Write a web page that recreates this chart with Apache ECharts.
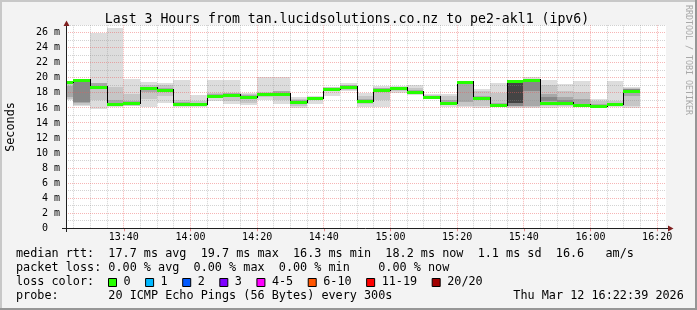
<!DOCTYPE html>
<html><head><meta charset="utf-8">
<script src="https://cdn.jsdelivr.net/npm/echarts@6/dist/echarts.min.js"></script>
<style>html,body{margin:0;padding:0;background:#f3f3f3}#c{width:697px;height:310px}</style>
</head><body><div id="c"></div>
<script>
// ---------- data ----------
const axisStart = '13:22:39';
const axisEnd = '16:22:39';
const stepMinutes = 5;
const stepEnds = ['13:25','13:30','13:35','13:40','13:45','13:50','13:55','14:00','14:05','14:10',
  '14:15','14:20','14:25','14:30','14:35','14:40','14:45','14:50','14:55','15:00',
  '15:05','15:10','15:15','15:20','15:25','15:30','15:35','15:40','15:45','15:50',
  '15:55','16:00','16:05','16:10','16:15'];
const median = [19.5,19.7,18.85,16.55,16.6,18.6,18.45,16.5,16.5,17.65,
  17.75,17.5,17.85,17.85,16.85,17.3,18.55,18.75,16.95,18.4,
  18.6,18.15,17.5,16.65,19.45,17.35,16.35,19.6,19.7,16.7,
  16.6,16.4,16.3,16.5,18.2];
const pingMin = [17.0,16.3,15.8,16.1,16.2,16.1,16.6,16.1,16.1,16.9,
  16.5,16.4,17.1,16.5,16.0,16.55,17.65,18.2,16.1,16.1,
  17.95,17.75,17.2,16.1,16.1,16.0,16.1,16.0,16.0,16.0,
  16.1,16.1,16.0,16.1,16.0];
const pingMax = [19.6,19.9,25.9,26.6,19.9,19.5,19.3,19.75,17.7,19.75,
  19.75,18.0,20.1,20.1,17.45,17.6,18.85,19.3,18.05,18.95,
  18.95,19.0,17.85,17.85,19.6,18.5,19.3,19.7,20.1,19.75,
  19.2,19.6,17.2,19.6,18.8];
const band2Lo = [17.2,16.4,17.1,16.3,16.3,17.2,17.6,16.2,16.2,17.3,
  16.9,16.7,17.4,17.1,16.3,17.0,18.2,18.4,16.5,17.0,
  18.3,17.9,17.3,16.4,16.2,16.3,16.2,16.1,16.1,16.3,
  16.3,16.2,16.1,16.2,16.3];
const band2Hi = [19.4,19.8,19.3,18.8,17.8,19.1,19.0,17.0,16.9,18.0,
  18.0,17.8,18.1,18.2,17.2,17.5,18.75,19.1,17.6,18.7,
  18.8,18.6,17.7,17.6,19.5,18.2,18.0,19.6,19.9,19.0,
  18.3,18.1,16.9,16.9,18.6];
const band3Lo = [17.5,16.6,18.5,16.4,16.5,18.1,18.1,16.4,16.4,17.6,
  17.8,17.2,17.7,17.9,16.6,17.2,18.4,18.6,16.8,18.2,
  18.5,18.1,17.4,16.5,16.8,17.0,16.3,16.2,16.3,16.6,
  16.5,16.3,16.2,16.3,17.6];
const band3Hi = [18.9,19.7,19.3,17.1,16.9,18.7,18.6,16.8,16.6,17.9,
  18.0,17.7,18.0,18.3,17.0,17.4,18.7,19.0,17.2,18.6,
  18.7,18.4,17.6,17.0,19.2,17.6,16.6,19.6,19.6,17.8,
  17.5,17.2,16.5,16.6,18.5];
const band4Lo = [null,16.8,null,null,null,null,null,null,null,null,
  null,null,null,null,null,null,null,null,null,null,
  null,null,null,null,null,null,null,16.3,18.2,16.9,
  16.7,null,null,null,18.2];
const band4Hi = [null,19.5,null,null,null,null,null,null,null,null,
  null,null,null,null,null,null,null,null,null,null,
  null,null,null,null,null,null,null,19.5,19.4,17.5,
  17.1,null,null,null,18.5];
const band5Lo = [null,null,null,null,null,null,null,null,null,null,
  null,null,null,null,null,null,null,null,null,null,
  null,null,null,null,null,null,null,16.6,null,null,
  null,null,null,null,null];
const band5Hi = [null,null,null,null,null,null,null,null,null,null,
  null,null,null,null,null,null,null,null,null,null,
  null,null,null,null,null,null,null,19.5,null,null,
  null,null,null,null,null];
const xTickLabels = ['13:40','14:00','14:20','14:40','15:00','15:20','15:40','16:00','16:20'];
const yTickValues = [0,2,4,6,8,10,12,14,16,18,20,22,24,26];
const yMax = 27;
const lossLabels = ['0','1','2','3','4-5','6-10','11-19','20/20'];
const lossColors = ['#26ff00','#00b8ff','#0059ff','#7e00ff','#ff00ff','#ff5500','#ff0000','#a10000'];
const titleText = 'Last 3 Hours from tan.lucidsolutions.co.nz to pe2-akl1 (ipv6)';
const legendLines = [
  'median rtt:  17.7 ms avg  19.7 ms max  16.3 ms min  18.2 ms now  1.1 ms sd  16.6   am/s',
  'packet loss: 0.00 % avg  0.00 % max  0.00 % min    0.00 % now',
  'loss color:',
  'probe:       20 ICMP Echo Pings (56 Bytes) every 300s'
];
const dateText = 'Thu Mar 12 16:22:39 2026';

// ---------- helpers ----------
function toMin(s){ const p = s.split(':').map(Number); return p[0]*60 + p[1] + (p[2]||0)/60; }
function fmtHM(v){ const h = Math.floor(v/60), m = Math.round(v - h*60); return String(h).padStart(2,'0') + ':' + String(m).padStart(2,'0'); }
const X0 = toMin(axisStart), X1 = toMin(axisEnd);
const FONT = '"DejaVu Sans Mono", monospace';

function segs(lo, hi){
  const out = [];
  stepEnds.forEach((e,i) => {
    if (lo[i] == null || hi[i] == null) return;
    const end = toMin(e);
    out.push([end - stepMinutes, end, lo[i], hi[i]]);
  });
  return out;
}
function rectRender(color){
  return function(params, api){
    const cs = params.coordSys;
    const a = api.coord([api.value(0), api.value(3)]);
    const b = api.coord([api.value(1), api.value(2)]);
    const x1 = Math.floor(Math.max(a[0], cs.x));
    const x2 = Math.floor(Math.min(b[0], cs.x + cs.width));
    const y1 = Math.round(a[1]), y2 = Math.round(b[1]);
    if (x2 <= x1) return null;
    return {type:'rect', shape:{x:x1, y:y1, width:x2-x1, height:Math.max(1, y2-y1)}, style:{fill:color}};
  };
}
function bandSeries(lo, hi, color, z){
  return {type:'custom', data:segs(lo, hi), renderItem:rectRender(color), z:z, silent:true,
    encode:{x:[0,1], y:[2,3]}};
}

// median data: [start, end, median, previous median]
const medData = stepEnds.map((e,i) => { const end = toMin(e); return [end - stepMinutes, end, median[i], i > 0 ? median[i-1] : median[i]]; });

// grid line positions
const vMinor = [], vMajor = [];
for (let t = Math.ceil(X0/stepMinutes)*stepMinutes; t <= X1; t += stepMinutes) (t % 20 === 0 ? vMajor : vMinor).push([t]);
const hMinor = [], hMajor = [];
for (let v = 1; v <= yMax; v++) (v % 2 === 0 ? hMajor : hMinor).push([v]);

function vLine(color){
  return function(params, api){
    const cs = params.coordSys;
    const x = Math.floor(api.coord([api.value(0), 0])[0]) + 0.5;
    return {type:'line', shape:{x1:x, y1:cs.y, x2:x, y2:cs.y + cs.height}, style:{stroke:color, lineWidth:1, lineDash:[1,1]}};
  };
}
function hLine(color){
  return function(params, api){
    const cs = params.coordSys;
    const y = Math.floor(api.coord([X0, api.value(0)])[1]) + 0.5;
    return {type:'line', shape:{x1:cs.x, y1:y, x2:cs.x + cs.width, y2:y}, style:{stroke:color, lineWidth:1, lineDash:[1,1]}};
  };
}
const MINOR = 'rgba(140,140,140,0.38)', MAJOR = 'rgba(235,90,90,0.45)';

// ---------- graphic (title, legend, frame) ----------
const CW = 11.8 * 0.6021;
const graphics = [
  {type:'rect', shape:{x:0, y:0, width:697, height:2}, style:{fill:'#c8c8c8'}, silent:true},
  {type:'rect', shape:{x:0, y:0, width:2, height:310}, style:{fill:'#c8c8c8'}, silent:true},
  {type:'rect', shape:{x:0, y:308, width:697, height:2}, style:{fill:'#969696'}, silent:true},
  {type:'rect', shape:{x:695, y:0, width:2, height:310}, style:{fill:'#969696'}, silent:true},
  {type:'text', x:347, y:19.5, style:{text:titleText, font:'13.2px ' + FONT, fill:'#000', align:'center', verticalAlign:'middle'}},
  {type:'text', x:11, y:127, rotation:Math.PI/2, style:{text:'Seconds', font:'11.8px ' + FONT, fill:'#000', align:'center', verticalAlign:'middle'}},
  {type:'text', x:688, y:60, rotation:-Math.PI/2, style:{text:'RRDTOOL / TOBI OETIKER', font:'8.3px ' + FONT, fill:'#a8a8a8', align:'center', verticalAlign:'middle'}},
  // axes
  {type:'line', shape:{x1:62, y1:228.5, x2:669, y2:228.5}, style:{stroke:'#1f1f1f', lineWidth:1}, z:10},
  {type:'line', shape:{x1:66.5, y1:232, x2:66.5, y2:25}, style:{stroke:'#1f1f1f', lineWidth:1}, z:10},
  {type:'polygon', shape:{points:[[668,225.5],[673.5,228.5],[668,231.5]]}, style:{fill:'#7f1f1f'}, z:10},
  {type:'polygon', shape:{points:[[63.5,26],[66.5,20.5],[69.5,26]]}, style:{fill:'#7f1f1f'}, z:10}
];
const lineY = [254.2, 268.0, 281.8, 295.6];
legendLines.forEach((t,i) => {
  graphics.push({type:'text', x:16, y:lineY[i], style:{text:t, font:'11.8px ' + FONT, fill:'#000', align:'left', verticalAlign:'middle'}});
});
graphics.push({type:'text', x:16 + 70*CW, y:lineY[3], style:{text:dateText, font:'11.8px ' + FONT, fill:'#000', align:'left', verticalAlign:'middle'}});
let bx = 108.5;
lossLabels.forEach((lab,i) => {
  graphics.push({type:'rect', shape:{x:bx, y:278.5, width:8, height:8}, style:{fill:lossColors[i], stroke:'#000', lineWidth:1}});
  graphics.push({type:'text', x:bx + 15, y:lineY[2], style:{text:lab, font:'11.8px ' + FONT, fill:'#000', align:'left', verticalAlign:'middle'}});
  bx += 15.7 + lab.length*CW + 14.3;
});

// ---------- chart ----------
const chart = echarts.init(document.getElementById('c'), null, {renderer:'canvas', width:697, height:310});
chart.setOption({
  animation:false,
  backgroundColor:'#f3f3f3',
  grid:{left:66, right:31, top:25.2, bottom:81.7, show:true, backgroundColor:'#ffffff', borderWidth:0},
  xAxis:{type:'value', min:X0, max:X1,
    axisLine:{show:false}, splitLine:{show:false},
    axisTick:{show:true, customValues:xTickLabels.map(toMin), length:3, lineStyle:{color:'#e88a8a'}},
    axisLabel:{customValues:xTickLabels.map(toMin), formatter:fmtHM, fontFamily:FONT, fontSize:10, color:'#000', margin:4}},
  yAxis:{type:'value', min:0, max:yMax,
    axisLine:{show:false}, splitLine:{show:false}, axisTick:{show:false},
    axisLabel:{customValues:yTickValues, formatter:v => v === 0 ? '0\u00a0\u00a0' : v + ' m', fontFamily:FONT, fontSize:10, color:'#000', margin:6}},
  series:[
    bandSeries(pingMin, pingMax, '#dddddd', 1),
    bandSeries(band2Lo, band2Hi, '#c6c6c6', 1),
    bandSeries(band3Lo, band3Hi, '#a8a8a8', 1),
    bandSeries(band4Lo, band4Hi, '#888888', 1),
    bandSeries(band5Lo, band5Hi, '#444444', 1),
    {type:'custom', data:vMinor, renderItem:vLine(MINOR), z:3, silent:true, encode:{x:0}},
    {type:'custom', data:hMinor, renderItem:hLine(MINOR), z:3, silent:true, encode:{y:0}},
    {type:'custom', data:vMajor, renderItem:vLine(MAJOR), z:3, silent:true, encode:{x:0}},
    {type:'custom', data:hMajor, renderItem:hLine(MAJOR), z:3, silent:true, encode:{y:0}},
    {type:'custom', data:medData, z:4, silent:true, encode:{x:[0,1], y:[2]},
      renderItem:function(params, api){
        const cs = params.coordSys;
        const a = api.coord([api.value(0), api.value(2)]);
        const b = api.coord([api.value(1), api.value(2)]);
        const x1 = Math.floor(Math.max(a[0], cs.x)), x2 = Math.floor(Math.min(b[0], cs.x + cs.width));
        const y = Math.round(a[1]);
        const yp = Math.round(api.coord([api.value(0), api.value(3)])[1]);
        const children = [];
        if (a[0] > cs.x && yp !== y) children.push({type:'rect', shape:{x:x1, y:Math.min(y,yp)-1, width:1, height:Math.abs(y-yp)+2}, style:{fill:'#000'}});
        children.push({type:'rect', shape:{x:x1, y:y-1, width:x2-x1, height:3}, style:{fill:'#26ff00'}});
        return {type:'group', children:children};
      }}
  ],
  graphic:{elements:graphics}
});
</script></body></html>
